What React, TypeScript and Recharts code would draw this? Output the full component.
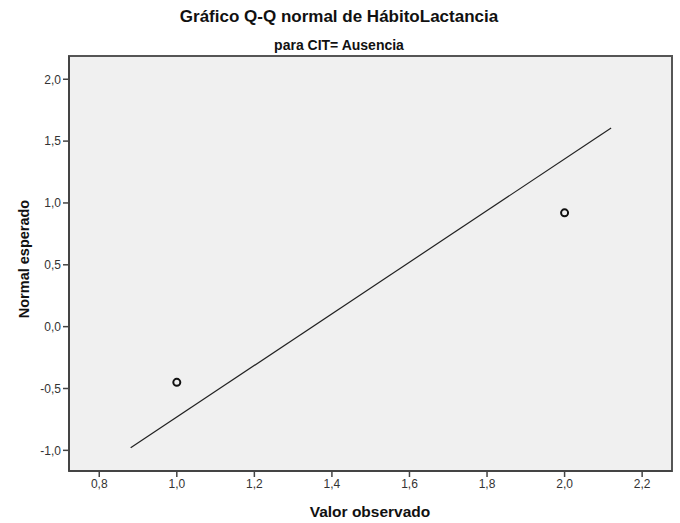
import React from "react";
import {
  ScatterChart,
  Scatter,
  XAxis,
  YAxis,
  CartesianGrid,
  ReferenceArea,
} from "recharts";

// observed points (valor observado vs normal esperado)
const observed = [1.0, 2.0];
const expected = [-0.45, 0.92];

// fitted reference line end points
const lineX = [0.881, 2.12];
const lineY = [-0.979, 1.606];

const xTicks = [0.8, 1.0, 1.2, 1.4, 1.6, 1.8, 2.0, 2.2];
const yTicks = [-1.0, -0.5, 0.0, 0.5, 1.0, 1.5, 2.0];

const X_DOMAIN: [number, number] = [0.722, 2.277];
const Y_DOMAIN: [number, number] = [-1.167, 2.188];

const points = observed.map((x, i) => ({ x, y: expected[i] }));
const fitLine = lineX.map((x, i) => ({ x, y: lineY[i] }));

const fmt = (v: number) => v.toFixed(1).replace(".", ",");
const FONT = "Arial, 'Liberation Sans', sans-serif";

const Ring = (props: any) => {
  const { cx, cy } = props;
  return <circle cx={cx} cy={cy} r={3.5} fill="#f0f0f0" stroke="#111" strokeWidth={2} />;
};

export default function App() {
  return (
    <div style={{ position: "absolute", left: 0, top: 0, width: 680, height: 523, background: "#fff", fontFamily: FONT }}>
      <ScatterChart width={680} height={523} margin={{ top: 56, right: 8, left: 0, bottom: 0 }}>
        <CartesianGrid fill="#f0f0f0" horizontal={false} vertical={false} />
        <XAxis
          type="number"
          dataKey="x"
          domain={X_DOMAIN}
          ticks={xTicks}
          tickFormatter={fmt}
          allowDataOverflow
          height={52}
          axisLine={{ stroke: "#444", strokeWidth: 2 }}
          tickLine={{ stroke: "#444", strokeWidth: 1.5 }}
          tickSize={6}
          tick={{ fill: "#333", fontSize: 12, fontFamily: FONT }}
        />
        <YAxis
          type="number"
          dataKey="y"
          domain={Y_DOMAIN}
          ticks={yTicks}
          tickFormatter={fmt}
          allowDataOverflow
          width={69}
          axisLine={{ stroke: "#444", strokeWidth: 2 }}
          tickLine={{ stroke: "#444", strokeWidth: 1.5 }}
          tickSize={6}
          tick={{ fill: "#333", fontSize: 12, fontFamily: FONT }}
        />
        <ReferenceArea
          x1={X_DOMAIN[0]}
          x2={X_DOMAIN[1]}
          y1={Y_DOMAIN[0]}
          y2={Y_DOMAIN[1]}
          fill="none"
          stroke="#555"
          strokeWidth={2}
          ifOverflow="extendDomain"
        />
        <Scatter
          data={fitLine}
          line={{ stroke: "#222", strokeWidth: 1.2 }}
          shape={() => <g />}
          isAnimationActive={false}
        />
        <Scatter data={points} shape={Ring} isAnimationActive={false} />
        <text x={339} y={22} textAnchor="middle" fontSize={17} fontWeight="bold" fill="#111" fontFamily={FONT}>
          Gráfico Q-Q normal de HábitoLactancia
        </text>
        <text x={339} y={50} textAnchor="middle" fontSize={14} fontWeight="bold" fill="#111" fontFamily={FONT}>
          para CIT= Ausencia
        </text>
        <text x={370} y={517} textAnchor="middle" fontSize={15.5} fontWeight="bold" fill="#111" fontFamily={FONT}>
          Valor observado
        </text>
        <text
          x={29}
          y={259}
          transform="rotate(-90 29 259)"
          textAnchor="middle"
          fontSize={14.5}
          fontWeight="bold"
          fill="#111"
          fontFamily={FONT}
        >
          Normal esperado
        </text>
      </ScatterChart>
    </div>
  );
}
